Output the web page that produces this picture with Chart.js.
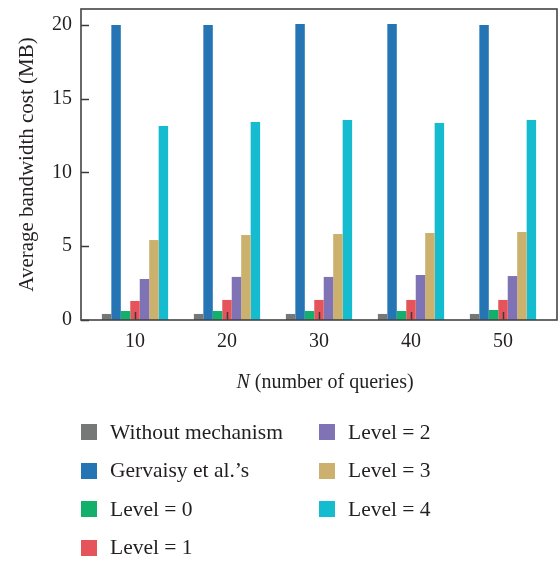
<!DOCTYPE html>
<html>
<head>
<meta charset="utf-8">
<script src="https://cdn.jsdelivr.net/npm/chart.js@4/dist/chart.umd.min.js"></script>
<style>
  html, body { margin: 0; padding: 0; background: #fff; }
  #wrap { position: relative; width: 560px; height: 561px; }
  #c { position: absolute; left: 0; top: 0; }
  #legend {
    position: absolute; left: 81px; top: 413px;
    display: grid; grid-auto-flow: column;
    grid-template-rows: repeat(4, 38.5px);
    grid-template-columns: 238px 200px;
    font: 21.5px "Liberation Serif", "Times New Roman", serif; color: #231f20;
  }
  .item { display: flex; align-items: center; white-space: nowrap; }
  .swatch { width: 16px; height: 16px; margin-right: 13px; flex: none; }
</style>
</head>
<body>
<div id="wrap">
  <canvas id="c" width="560" height="561"></canvas>
  <div id="legend"></div>
</div>
<script>
// Number of queries on the x axis
const queryCounts = [10, 20, 30, 40, 50];
const yTicks = [0, 5, 10, 15, 20];

// Average bandwidth cost (MB) per method
const seriesNames = ['Without mechanism', 'Gervaisy et al.\u2019s', 'Level = 0', 'Level = 1', 'Level = 2', 'Level = 3', 'Level = 4'];
const withoutMechanism = [0.41, 0.41, 0.41, 0.41, 0.41];
const gervaisy = [20.0, 20.0, 20.07, 20.07, 20.0];
const level0 = [0.61, 0.61, 0.61, 0.61, 0.68];
const level1 = [1.29, 1.36, 1.36, 1.36, 1.36];
const level2 = [2.78, 2.92, 2.92, 3.05, 2.98];
const level3 = [5.42, 5.76, 5.83, 5.90, 5.97];
const level4 = [13.15, 13.42, 13.56, 13.36, 13.56];

const seriesValues = [withoutMechanism, gervaisy, level0, level1, level2, level3, level4];
const seriesColors = ['#767878', '#2575b5', '#12b06b', '#e4545a', '#7f73b5', '#cbb16d', '#15bcd0'];

const FONT = '"Liberation Serif", "Times New Roman", serif';
const TEXT = '#231f20';

// Frame, inward tick marks and the x-axis title with italic N
const framePlugin = {
  id: 'frame',
  afterDatasetsDraw(chart) {
    const { ctx, chartArea: a, scales: { x, y } } = chart;
    ctx.save();
    ctx.strokeStyle = '#3a3a3a';
    ctx.lineWidth = 1.5;
    ctx.beginPath();
    yTicks.forEach(v => {
      const py = Math.round(y.getPixelForValue(v)) + 0.5;
      ctx.moveTo(a.left, py); ctx.lineTo(a.left + 8, py);
    });
    queryCounts.forEach(v => {
      const px = Math.round(x.getPixelForValue(v)) + 0.5;
      ctx.moveTo(px, a.bottom); ctx.lineTo(px, a.bottom - 8);
    });
    ctx.stroke();
    ctx.strokeStyle = '#444';
    ctx.lineWidth = 1.6;
    ctx.strokeRect(a.left, a.top, a.right - a.left, a.bottom - a.top);

    // x-axis title
    const italic = 'italic 20px ' + FONT;
    const upright = '20px ' + FONT;
    const part1 = 'N', part2 = ' (number of queries)';
    ctx.font = italic; const w1 = ctx.measureText(part1).width;
    ctx.font = upright; const w2 = ctx.measureText(part2).width;
    const cx = (a.left + a.right) / 2 + 6;
    const sx = cx - (w1 + w2) / 2;
    const ty = a.bottom + 63;
    ctx.fillStyle = TEXT;
    ctx.textBaseline = 'middle';
    ctx.textAlign = 'left';
    ctx.font = italic; ctx.fillText(part1, sx, ty);
    ctx.font = upright; ctx.fillText(part2, sx + w1, ty);
    ctx.restore();
  }
};

const chart = new Chart(document.getElementById('c'), {
  type: 'bar',
  data: {
    datasets: seriesValues.map((vals, k) => ({
      label: seriesNames[k],
      data: queryCounts.map((q, i) => ({ x: q, y: vals[i] })),
      backgroundColor: seriesColors[k],
      borderWidth: 0,
      categoryPercentage: 0.72,
      barPercentage: 1
    }))
  },
  options: {
    responsive: false,
    animation: false,
    layout: { padding: { top: 9, right: 3, left: 0, bottom: 0 } },
    plugins: { legend: { display: false }, tooltip: { enabled: false } },
    scales: {
      x: {
        type: 'linear',
        offset: false,
        min: 4.13,
        max: 55.87,
        grid: { display: false },
        border: { display: false },
        afterBuildTicks: s => { s.ticks = queryCounts.map(v => ({ value: v })); },
        afterFit: s => { s.height = 241; s.paddingLeft = 0; s.paddingRight = 0; },
        ticks: { padding: 2, color: TEXT, font: { family: FONT, size: 20 } }
      },
      y: {
        min: 0,
        max: 21.08,
        grid: { display: false },
        border: { display: false },
        afterBuildTicks: s => { s.ticks = yTicks.map(v => ({ value: v })); },
        afterFit: s => { s.width = 81; s.paddingTop = 0; s.paddingBottom = 0; },
        ticks: { padding: 1, color: TEXT, font: { family: FONT, size: 20 } },
        title: {
          display: true,
          text: 'Average bandwidth cost (MB)',
          color: TEXT,
          font: { family: FONT, size: 21 },
          padding: { top: 15, bottom: 0 }
        }
      }
    }
  },
  plugins: [framePlugin]
});

// Two-column legend built from the datasets
const legend = document.getElementById('legend');
chart.data.datasets.forEach(ds => {
  const item = document.createElement('div');
  item.className = 'item';
  const sw = document.createElement('span');
  sw.className = 'swatch';
  sw.style.background = ds.backgroundColor;
  const label = document.createElement('span');
  label.textContent = ds.label;
  item.appendChild(sw);
  item.appendChild(label);
  legend.appendChild(item);
});
</script>
</body>
</html>
